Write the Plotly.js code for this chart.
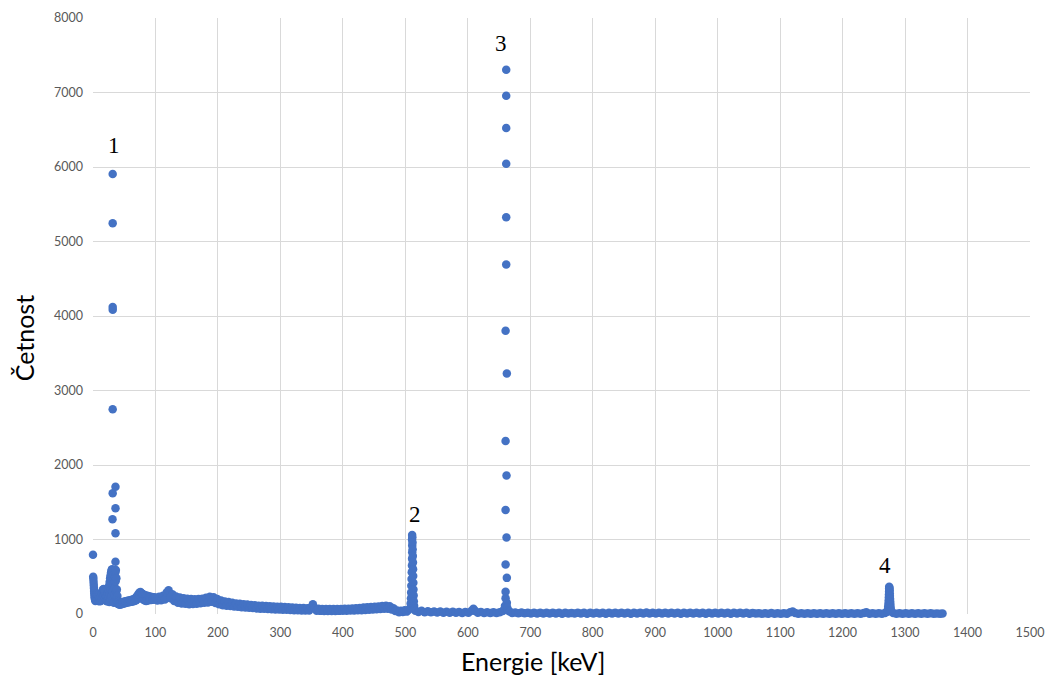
<!DOCTYPE html>
<html>
<head>
<meta charset="utf-8">
<script src="https://cdn.plot.ly/plotly-3.0.1.min.js"></script>
<style>
  html, body { margin: 0; padding: 0; background: #ffffff; }
  #chart { width: 1045px; height: 675px; }
</style>
</head>
<body>
<div id="chart"></div>
<script>
// Gamma spectrum: [energy keV, counts] pairs, grouped by region.

// 0-24 keV: low-energy tail
const bandLow = [
  [0, 795], [0.3, 500], [0.6, 470], [0.9, 430], [1.2, 390], [1.5, 350], [1.8, 310], [2.1, 280],
  [2.4, 250], [2.7, 225], [3, 205], [3.4, 190], [3.8, 175], [4.2, 230], [4.6, 185], [5, 250],
  [5.5, 195], [6, 265], [6.5, 180], [7, 275], [7.5, 190], [8, 260], [8.5, 175], [9, 250],
  [9.5, 185], [10, 230], [10.5, 170], [11, 220], [11.5, 180], [12, 210], [12.5, 175], [13, 240],
  [13.5, 190], [14, 270], [14.5, 200], [15, 300], [15.5, 220], [16, 330], [16.5, 240], [17, 335],
  [17.5, 250], [18, 320], [18.5, 230], [19, 300], [19.5, 210], [20, 260], [20.5, 190], [21, 240],
  [21.5, 175], [22, 230], [22.5, 170], [23, 250], [23.5, 180], [24, 280]
];

// 24-42 keV: base of the Ba X-ray peak
const peak1Base = [
  [24.5, 180], [25, 320], [25.4, 220], [25.8, 380], [26.2, 160], [26.6, 430], [27, 270], [27.4, 480],
  [27.8, 200], [28.2, 520], [28.6, 330], [29, 560], [29.4, 240], [29.8, 590], [30.2, 400], [30.6, 600],
  [31, 480], [31.4, 300], [31.8, 560], [32.2, 180], [32.6, 520], [33, 400], [33.4, 150], [33.8, 470],
  [34.2, 260], [34.6, 430], [35, 350], [35.4, 500], [35.8, 560], [36.2, 440], [36.6, 590], [37, 300],
  [37.4, 480], [37.8, 200], [38.2, 330], [38.6, 160], [39, 240], [39.4, 140], [39.8, 180], [40.3, 135],
  [40.8, 160], [41.3, 130]
];

// Ba K-alpha / K-beta channels
const peak1 = [
  [31.5, 5906], [31.5, 5244], [31.5, 4120], [31.6, 4085], [31.5, 2748], [31.5, 1620], [31.2, 1271],
  [36, 1709], [36, 1419], [36, 1083], [36, 702]
];

// 42-99 keV
const bandX = [
  [42, 140], [43, 125], [44, 150], [45, 130], [46, 155], [47, 135], [48, 160], [49, 140], [50, 165], [51, 145],
  [52, 170], [53, 150], [54, 175], [55, 155], [56, 178], [57, 158], [58, 182], [59, 160], [60, 185], [61, 165],
  [62, 190], [63, 168], [64, 195], [65, 172], [66, 200], [67, 178], [68, 215], [69, 185], [70, 235], [71, 200],
  [72, 260], [73, 215], [74, 285], [75, 230], [76, 295], [77, 220], [78, 280], [79, 205], [80, 265], [81, 190],
  [82, 255], [83, 180], [84, 250], [85, 175], [86, 245], [87, 180], [88, 240], [89, 185], [90, 235], [91, 190],
  [92, 232], [93, 188], [94, 228], [95, 192], [96, 225], [97, 195], [98, 222], [99, 198]
];

// 100-505 keV: Compton continuum
const bandMid = [
  [100, 222], [103, 180], [106, 230], [109, 185], [112, 245], [115, 195], [118, 290], [121, 320], [124, 210], [127, 265],
  [130, 175], [133, 235], [136, 150], [139, 220], [142, 140], [145, 212], [148, 138], [151, 205], [154, 132], [157, 200],
  [160, 135], [163, 198], [166, 138], [169, 202], [172, 145], [175, 205], [178, 150], [181, 218], [184, 155], [187, 232],
  [190, 165], [193, 225], [196, 148], [199, 200], [202, 130], [205, 180], [208, 118], [211, 168], [214, 112], [217, 160],
  [220, 106], [223, 150], [226, 100], [229, 142], [232, 96], [235, 136], [238, 92], [241, 130], [244, 88], [247, 126],
  [250, 84], [253, 122], [256, 80], [259, 116], [262, 74], [265, 112], [268, 72], [271, 110], [274, 70], [277, 108],
  [280, 66], [283, 104], [286, 64], [289, 102], [292, 62], [295, 98], [298, 60], [301, 96], [304, 58], [307, 94],
  [310, 56], [313, 90], [316, 54], [319, 88], [322, 52], [325, 85], [328, 50], [331, 82], [334, 48], [337, 80],
  [340, 47], [343, 78], [346, 46], [349, 90], [352, 130], [355, 76], [358, 44], [361, 72], [364, 42], [367, 68],
  [370, 40], [373, 67], [376, 40], [379, 66], [382, 41], [385, 67], [388, 40], [391, 66], [394, 42], [397, 68],
  [400, 43], [403, 70], [406, 44], [409, 72], [412, 46], [415, 75], [418, 47], [421, 78], [424, 50], [427, 82],
  [430, 52], [433, 86], [436, 55], [439, 90], [442, 58], [445, 94], [448, 62], [451, 98], [454, 64], [457, 102],
  [460, 66], [463, 108], [466, 70], [469, 112], [472, 72], [475, 104], [478, 60], [481, 78], [484, 40], [487, 48],
  [490, 22], [493, 45], [496, 28], [499, 50], [502, 32], [505, 55]
];

// 511 keV annihilation peak
const peak2 = [
  [508, 80], [508.5, 140], [509, 210], [509.3, 290], [509.6, 380], [510, 470], [510.3, 560], [510.6, 650],
  [510.8, 740], [511, 830], [511, 920], [510.7, 1000], [510.9, 1060], [511.2, 1030], [511.5, 960], [511.7, 870],
  [512, 780], [512.2, 690], [512.4, 600], [512.6, 510], [512.8, 420], [513, 330], [513.3, 250], [513.6, 170],
  [514, 110], [514.5, 70]
];

// 516-656 keV
const bandPost = [
  [516, 45], [521, 28], [526, 42], [531, 25], [536, 38], [541, 22], [546, 35], [551, 20], [556, 32], [561, 18],
  [566, 30], [571, 17], [576, 29], [581, 16], [586, 28], [591, 15], [596, 27], [601, 18], [606, 45], [609, 72],
  [612, 40], [616, 16], [621, 26], [626, 14], [631, 25], [636, 13], [641, 24], [646, 12], [651, 22], [656, 40]
];

// 662 keV Cs-137 photopeak
const peak3 = [
  [659, 70], [659.5, 107], [660.5, 211], [662.5, 150], [660.5, 300], [662.5, 485], [660.5, 664], [662, 1028],
  [660.5, 1397], [662, 1859], [660.5, 2321], [662.5, 3228], [660.5, 3803], [661.5, 4690], [661.5, 5326],
  [661.5, 6044], [661.5, 6522], [661.5, 6957], [661.5, 7306], [663, 90], [664, 50]
];

// 667-1360 keV
const bandHigh = [
  [667, 35], [671, 12], [676, 20], [681, 10], [686, 19], [691, 9], [696, 17], [701, 7], [706, 18], [711, 6],
  [716, 16], [721, 8], [726, 17], [731, 6], [736, 18], [741, 7], [746, 16], [751, 5], [756, 17], [761, 7],
  [766, 15], [771, 6], [776, 17], [781, 8], [786, 16], [791, 5], [796, 18], [801, 6], [806, 16], [811, 7],
  [816, 17], [821, 5], [826, 16], [831, 6], [836, 18], [841, 7], [846, 17], [851, 6], [856, 16], [861, 5],
  [866, 18], [871, 7], [876, 17], [881, 6], [886, 19], [891, 7], [896, 18], [901, 6], [906, 17], [911, 8],
  [916, 16], [921, 6], [926, 17], [931, 7], [936, 16], [941, 5], [946, 17], [951, 6], [956, 16], [961, 7],
  [966, 18], [971, 6], [976, 16], [981, 5], [986, 17], [991, 6], [996, 16], [1001, 7], [1006, 17], [1011, 6],
  [1016, 16], [1021, 5], [1026, 17], [1031, 7], [1036, 16], [1041, 6], [1046, 17], [1051, 5], [1056, 15], [1061, 6],
  [1066, 11], [1071, 3], [1076, 10], [1081, 2], [1086, 14], [1091, 3], [1096, 10], [1101, 2], [1106, 11], [1111, 3],
  [1116, 22], [1120, 34], [1124, 12], [1129, 3], [1134, 10], [1139, 2], [1144, 11], [1149, 3], [1154, 10], [1159, 2],
  [1164, 11], [1169, 3], [1174, 10], [1179, 2], [1184, 11], [1189, 3], [1194, 10], [1199, 2], [1204, 11], [1209, 3],
  [1214, 10], [1219, 2], [1224, 11], [1229, 3], [1234, 14], [1238, 24], [1243, 3], [1248, 10], [1253, 2], [1258, 11],
  [1263, 3], [1268, 12], [1281, 14], [1286, 3], [1291, 10], [1296, 2], [1301, 11], [1306, 3], [1311, 10], [1316, 2],
  [1321, 10], [1326, 3], [1331, 9], [1336, 2], [1341, 9], [1346, 2], [1351, 8], [1356, 2], [1360, 6]
];

// 1275 keV Na-22 photopeak
const peak4 = [
  [1272, 30], [1272.5, 60], [1273, 100], [1273.5, 140], [1273.8, 180], [1274, 220], [1274.2, 260], [1274.4, 300],
  [1274.5, 340], [1274.6, 367], [1275, 350], [1275.3, 320], [1275.5, 280], [1275.7, 240], [1276, 200],
  [1276.3, 160], [1276.6, 120], [1277, 80], [1277.5, 45]
];

// Peak labels: text, energy of the peak, highest count, pixel offsets
const peakLabels = ['1', '2', '3', '4'];
const peakEnergy = [31.5, 510.9, 661.5, 1274.6];
const peakTop = [5906, 1060, 7306, 367];
const labelDx = [1, 3, -5, -4];
const labelDy = [29, 21, 26, 21];

const xTitle = 'Energie [keV]';
const yTitle = 'Četnost';

const spectrum = [].concat(bandLow, peak1Base, peak1, bandX, bandMid, peak2, bandPost, peak3, bandHigh, peak4);

const trace = {
  type: 'scatter',
  mode: 'markers',
  x: spectrum.map(p => p[0]),
  y: spectrum.map(p => p[1]),
  cliponaxis: false,
  marker: { color: '#4472C4', size: 8.5, line: { width: 0 } },
  hoverinfo: 'x+y'
};

const annotations = peakLabels.map((t, i) => ({
  x: peakEnergy[i], y: peakTop[i], xref: 'x', yref: 'y',
  text: t, showarrow: false, xshift: labelDx[i], yshift: labelDy[i],
  font: { family: 'Liberation Serif, serif', size: 23, color: '#000000' }
}));

// Axis titles placed as annotations in paper coordinates
annotations.push({
  xref: 'paper', yref: 'paper', x: 0.47, y: -0.079, yanchor: 'middle', xanchor: 'center',
  text: xTitle, showarrow: false,
  font: { family: 'Lato, sans-serif', size: 25, color: '#000000' }
});
annotations.push({
  xref: 'paper', yref: 'paper', x: -0.074, y: 0.462, xanchor: 'center', yanchor: 'middle',
  text: yTitle, showarrow: false, textangle: -90,
  font: { family: 'Lato, sans-serif', size: 25, color: '#000000' }
});

const tickFont = { family: 'Lato, sans-serif', size: 12.5, color: '#595959' };

const layout = {
  width: 1045,
  height: 675,
  margin: { l: 93, r: 15, t: 18, b: 61 },
  paper_bgcolor: '#ffffff',
  plot_bgcolor: '#ffffff',
  showlegend: false,
  xaxis: {
    range: [0, 1500], tick0: 0, dtick: 100,
    showgrid: true, gridcolor: '#d9d9d9', gridwidth: 1,
    zeroline: false, showline: false, ticks: '',
    ticklabelstandoff: 9,
    tickfont: tickFont
  },
  yaxis: {
    range: [0, 8000], tick0: 0, dtick: 1000,
    showgrid: true, gridcolor: '#d9d9d9', gridwidth: 1,
    zeroline: false, showline: false, ticks: '',
    ticklabelstandoff: 9,
    tickfont: tickFont
  },
  annotations: annotations
};

Plotly.newPlot('chart', [trace], layout, { displayModeBar: false, staticPlot: true });
</script>
</body>
</html>
